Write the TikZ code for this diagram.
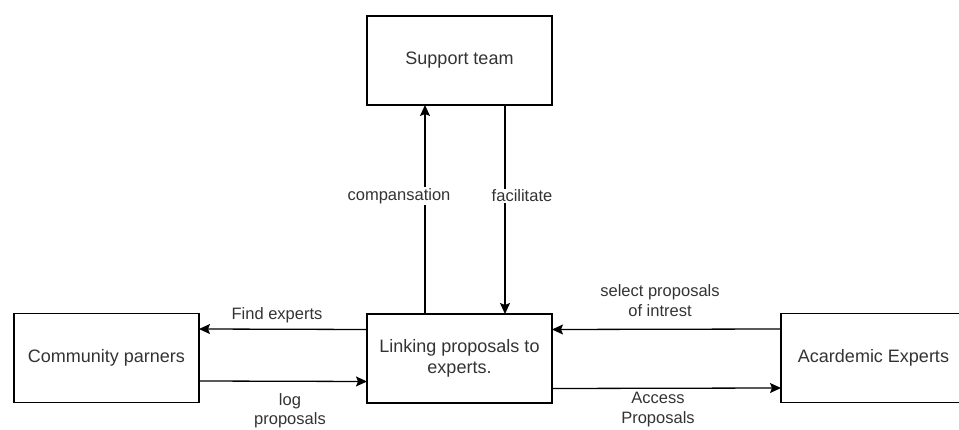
\documentclass[tikz,border=0pt]{standalone}
\usepackage{fontspec}
\setmainfont{Liberation Sans}
\usetikzlibrary{arrows.meta}
\definecolor{txt}{HTML}{333333}
\begin{document}
\begin{tikzpicture}[x=1pt,y=-1pt,
  box/.style={draw=black, line width=1.3pt, minimum width=185pt, minimum height=89pt, inner sep=0pt, outer sep=0pt, font=\fontsize{18}{20.5}\selectfont, text=txt, align=center},
  lbl/.style={font=\fontsize{16.5}{19.5}\selectfont, text=txt, align=center, inner sep=1pt},
  bglbl/.style={lbl, fill=white},
  arr/.style={line width=1.3pt, -{Stealth[length=11pt,width=10pt,inset=2pt]}}]
\useasboundingbox (0,0) rectangle (959,430);
\clip (0,0) rectangle (959,430);
\node[box] (sup) at (459.5,60.5) {Support team};
\node[box] (link) at (459.5,358.5) {Linking proposals to\\experts.};
\node[box] (com) at (106.5,358) {Community parners};
\node[box] (acad) at (873.5,358) {Acardemic Experts};
% vertical connectors
\draw[arr] ([xshift=58pt]link.north west) -- ([xshift=58pt]sup.south west);
\draw[arr] ([xshift=138pt]sup.south west) -- ([xshift=138pt]link.north west);
% horizontal connectors
\draw[arr] ([yshift=-15.5pt]link.north west) -- ([yshift=-15.5pt]com.north east);
\draw[arr] ([yshift=-67.5pt]com.north east) -- ([yshift=-67.5pt]link.north west);
\draw[arr] ([yshift=-15.5pt]acad.north west) -- ([yshift=-15.5pt]link.north east);
\draw[arr] ([yshift=-74.5pt]link.north east) -- ([yshift=-74.5pt]acad.north west);
% labels
\node[bglbl] (lcomp) at (399,196) {compansation};
\node[bglbl] (lfac) at (522,196) {facilitate};
\node[lbl] (lfind) at (277,315) {Find experts};
\node[lbl] (llog) at (290,410.5) {log\\proposals};
\node[lbl] (lsel) at (660,300.5) {select proposals\\of intrest};
\node[lbl] (lacc) at (658,409.5) {Access\\Proposals};
\end{tikzpicture}
\end{document}
